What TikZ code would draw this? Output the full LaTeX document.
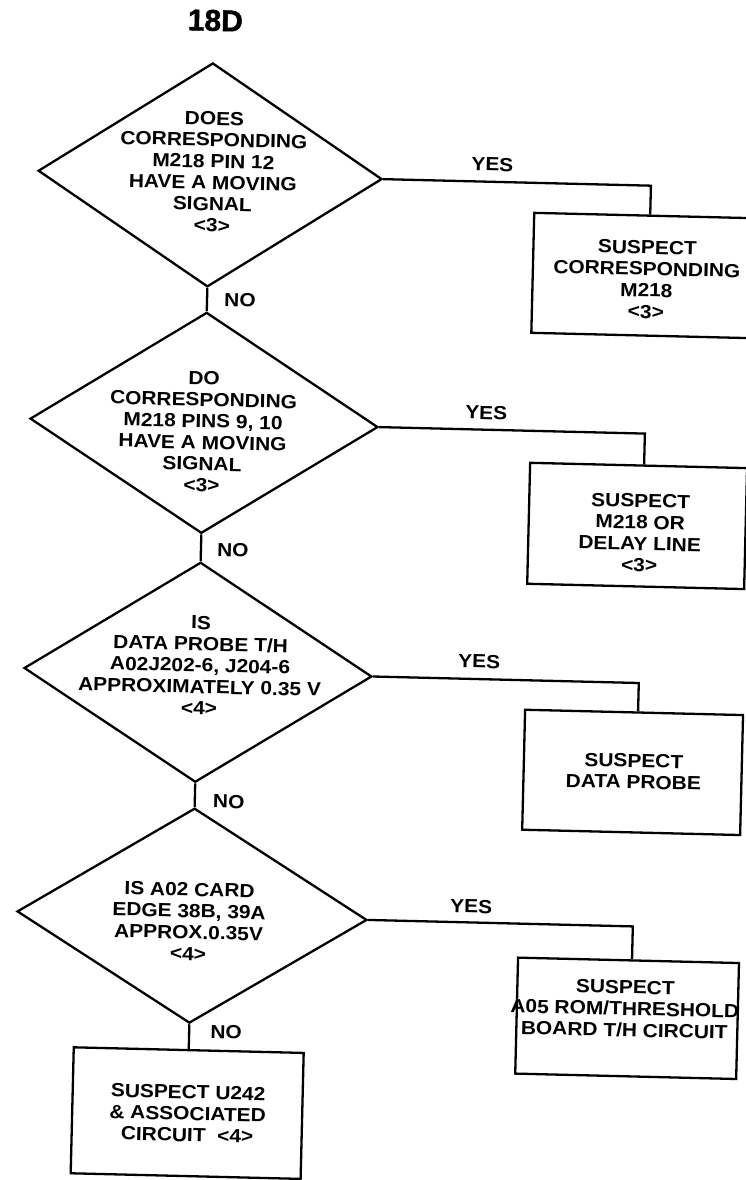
\documentclass[tikz,border=0pt]{standalone}
\usepackage{fontspec}
\setmainfont{Liberation Sans}[FakeStretch=1.1]
\newfontfamily\titlefont{Liberation Sans}[FakeBold=1.5]
\usetikzlibrary{shapes.geometric}
\begin{document}
\begin{tikzpicture}[x=1pt,y=-1pt,
  ln/.style={line width=2.3pt},
  dia/.style={draw, diamond, ln, inner sep=0pt},
  box/.style={draw, rectangle, ln, inner sep=0pt},
  txt/.style={font=\bfseries\fontsize{19pt}{21.4pt}\selectfont, align=center, inner sep=0pt},
  ttl/.style={font=\titlefont\bfseries\fontsize{30pt}{30pt}\selectfont, inner sep=0pt}
]
\useasboundingbox (0,0) rectangle (746,1180);
\fill[white] (0,0) rectangle (746,1180);
\begin{scope}[rotate around={-1.4:(373,590)}, transform shape]
  \node[ttl] (title) at (201.5,24.5) {18D};

  % decisions
  \node[dia, minimum width=344pt, minimum height=224pt] (d1) at (200,179) {};
  \node[dia, minimum width=348pt, minimum height=221pt] (d2) at (200,427) {};
  \node[dia, minimum width=348pt, minimum height=220pt] (d3) at (200,676.5) {};
  \node[dia, minimum width=350pt, minimum height=215pt] (d4) at (200,920) {};

  \node[txt] (t1) at (203,176) {DOES\\CORRESPONDING\\M218 PIN 12\\HAVE A MOVING\\SIGNAL\\<3>};
  \node[txt] (t2) at (199,436) {DO\\CORRESPONDING\\M218 PINS 9, 10\\HAVE A MOVING\\SIGNAL\\<3>};
  \node[txt] (t3) at (202,669.5) {IS\\DATA PROBE T/H\\A02J202-6, J204-6\\APPROXIMATELY 0.35 V\\<4>};
  \node[txt] (t4) at (197,926) {IS A02 CARD\\EDGE 38B, 39A\\APPROX.0.35V\\<4>};

  % outcomes
  \node[box, minimum width=232pt, minimum height=120pt] (b1) at (641,269) {};
  \node[box, minimum width=217pt, minimum height=121pt] (b2) at (635.5,519.5) {};
  \node[box, minimum width=218pt, minimum height=120pt] (b3) at (637,766) {};
  \node[box, minimum width=221pt, minimum height=116pt] (b4) at (637.5,1012) {};
  \node[box, minimum width=230pt, minimum height=126pt] (b5) at (200,1117.5) {};

  \node[txt] (u1) at (639,273) {SUSPECT\\CORRESPONDING\\M218\\<3>};
  \node[txt] (u2) at (638.5,526.5) {SUSPECT\\M218 OR\\DELAY LINE\\<3>};
  \node[txt] (u3) at (638,765) {SUSPECT\\DATA PROBE};
  \node[txt] (u4) at (635,1002.5) {SUSPECT\\A05 ROM/THRESHOLD\\BOARD T/H CIRCUIT};
  \node[txt] (u5) at (200.5,1118) {SUSPECT U242\\\& ASSOCIATED\\CIRCUIT\ \ <4>};

  % labels
  \node[txt] (y1) at (482,161.5) {YES};
  \node[txt] (y2) at (482,410) {YES};
  \node[txt] (y3) at (481,659) {YES};
  \node[txt] (y4) at (479,904) {YES};
  \node[txt] (n1) at (233,303.5) {NO};
  \node[txt] (n2) at (232,553.5) {NO};
  \node[txt] (n3) at (234,805) {NO};
  \node[txt] (n4) at (237,1035.5) {NO};

  % corners of the YES connectors
  \coordinate (c1) at (641,179);
  \coordinate (c2) at (641,427);
  \coordinate (c3) at (641,676.5);
  \coordinate (c4) at (641,920);

  \draw[ln] (d1.east) -- (c1) -- (c1 |- b1.north);
  \draw[ln] (d2.east) -- (c2) -- (c2 |- b2.north);
  \draw[ln] (d3.east) -- (c3) -- (c3 |- b3.north);
  \draw[ln] (d4.east) -- (c4) -- (c4 |- b4.north);

  \draw[ln] (d1.south) -- (d2.north);
  \draw[ln] (d2.south) -- (d3.north);
  \draw[ln] (d3.south) -- (d4.north);
  \draw[ln] (d4.south) -- (b5.north);
\end{scope}
\end{tikzpicture}
\end{document}
